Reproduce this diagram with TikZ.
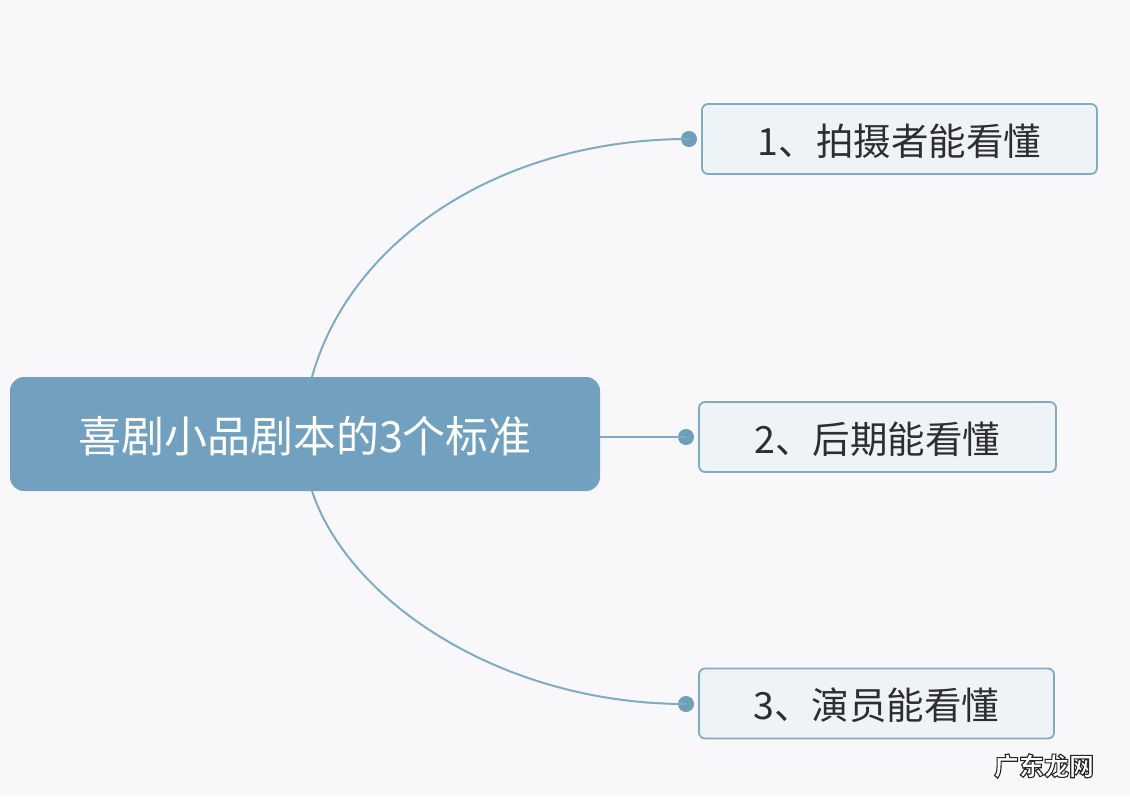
\documentclass[tikz,border=0pt]{standalone}
\usepackage{fontspec}
\setmainfont{Noto Sans CJK SC}
\usetikzlibrary{positioning}
\definecolor{paper}{HTML}{F8F8FB}
\definecolor{mainblue}{HTML}{72A0BF}
\definecolor{rim}{HTML}{80ABC2}
\definecolor{boxfill}{HTML}{EEF3F7}
\definecolor{dotblue}{HTML}{6F9FB8}
\definecolor{inktext}{HTML}{2E2E30}
\newcommand{\lowered}[1]{\raisebox{0pt}[\dimexpr\height+4pt\relax]{#1}}

\begin{document}
\begin{tikzpicture}[x=1pt,y=-1pt]
            \tikzstyle{topic}=[rectangle,rounded corners=14pt,minimum width=590pt,minimum height=114pt,fill=mainblue,text=white,font=\fontsize{43}{43}\selectfont,inner sep=0pt]
            \tikzstyle{leaf}=[rectangle,rounded corners=6pt,minimum height=70pt,draw=rim,line width=1.8pt,fill=boxfill,text=inktext,font=\fontsize{37.5}{37.5}\selectfont,inner sep=0pt]
            \tikzstyle{dot}=[circle,minimum size=16pt,inner sep=0pt,fill=dotblue]   % end of a branch
            \tikzstyle{branch}=[rim,line width=2pt]

            \fill[paper] (0,0) rectangle (1130,796);
            \useasboundingbox (0,0) rectangle (1130,796);

            \node[topic] (0) at (305, 434) {\lowered{喜剧小品剧本的3个标准}};
            \node[leaf,minimum width=395pt] (1) at (899.5, 139) {\lowered{1、拍摄者能看懂}};
            \node[leaf,minimum width=357pt] (2) at (877.5, 437) {\lowered{2、后期能看懂}};
            \node[leaf,minimum width=355pt] (3) at (876.5, 703.5) {\lowered{3、演员能看懂}};

            \node[dot] (d1) at (689, 139) {};
            \node[dot] (d2) at (686, 437) {};
            \node[dot] (d3) at (686, 704) {};

            \coordinate (up) at (312, 377);
            \coordinate (down) at (312, 491);

            \draw[branch] (up) .. controls (350, 240) and (500, 139) .. (d1.center);
            \draw[branch] (0.east |- d2) -- (d2.center);
            \draw[branch] (down) .. controls (348, 600) and (500, 704) .. (d3.center);

            \node[text=white,font=\fontsize{25}{25}\selectfont\bfseries] (mark) at (1044, 766) {\special{pdf:code q 2 Tr 1.1 w 0.15 G}广东龙网\special{pdf:code Q}};
\end{tikzpicture}
\end{document}
